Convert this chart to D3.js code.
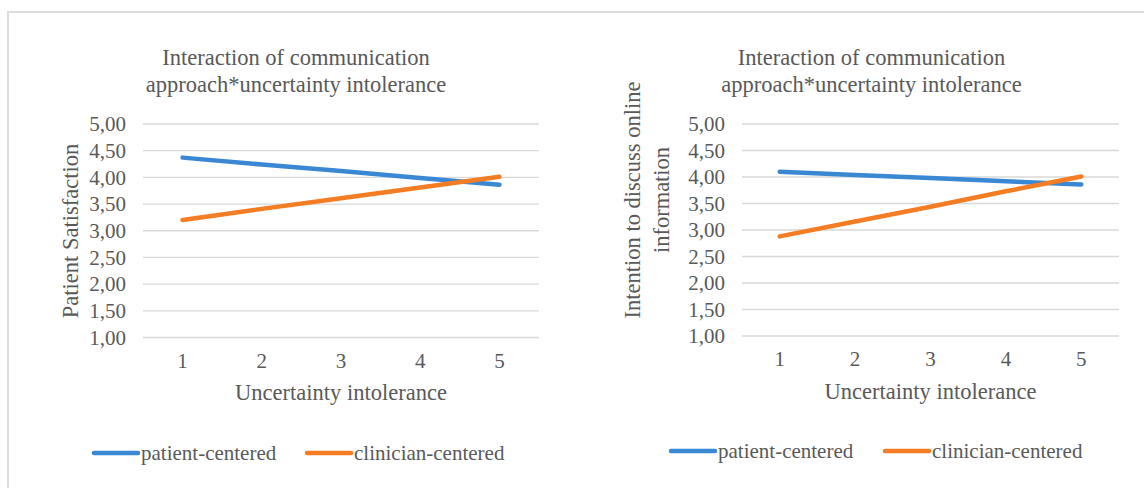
<!DOCTYPE html>
<html>
<head>
<meta charset="utf-8">
<script src="https://cdn.jsdelivr.net/npm/d3@7"></script>
<style>
  body { margin: 0; background: #fff; }
  svg text { font-family: "Liberation Serif", "Times New Roman", serif; fill: #595959; }
  .grid line { stroke: #d9d9d9; stroke-width: 1.3; }
  .line { fill: none; stroke-width: 4.5; stroke-linecap: round; stroke-linejoin: round; }
</style>
</head>
<body>
<div id="chart"></div>
<script>
// data
var levels = [1, 2, 3, 4, 5];
var yTicks = [1, 1.5, 2, 2.5, 3, 3.5, 4, 4.5, 5];
var seriesNames = ["patient-centered", "clinician-centered"];
var seriesColors = ["#3a87d4", "#f47c22"];

var satisfactionPatient = [4.37, 4.24, 4.12, 3.99, 3.86];
var satisfactionClinician = [3.20, 3.41, 3.61, 3.81, 4.01];

var intentionPatient = [4.10, 4.04, 3.98, 3.92, 3.86];
var intentionClinician = [2.88, 3.16, 3.44, 3.73, 4.01];

var chartTitle = ["Interaction of communication", "approach*uncertainty intolerance"];
var xTitle = "Uncertainty intolerance";

function init() {
    var w = 1144;
    var h = 488;

    var svg = d3.select("#chart")
                .append("svg")
                .attr("width", w)
                .attr("height", h);

    // outer frame
    svg.append("path")
        .attr("d", "M8," + h + "V12H" + w)
        .attr("fill", "none")
        .attr("stroke", "#dcdcdc")
        .attr("stroke-width", 2);

    drawChart(svg, {
        left: 143, right: 539, top: 124, bottom: 337.5,
        titleX: 296,
        yTitle: ["Patient Satisfaction"], yTitleX: [70], yTitleY: 231,
        tickY: 368, xTitleY: 400,
        legendY: 453, legendX: [94, 307],
        series: [satisfactionPatient, satisfactionClinician]
    });

    drawChart(svg, {
        left: 742, right: 1119, top: 124, bottom: 336,
        titleX: 871.5,
        yTitle: ["Intention to discuss online", "information"], yTitleX: [632, 661.5], yTitleY: 200,
        tickY: 366, xTitleY: 399,
        legendY: 451, legendX: [671, 885],
        series: [intentionPatient, intentionClinician]
    });
}

function drawChart(svg, c) {
    var xScale = d3.scaleBand()
                .domain(levels)
                .range([c.left, c.right]);

    var yScale = d3.scaleLinear()
                .domain([1, 5])
                .range([c.bottom, c.top]);

    // gridlines
    svg.append("g")
        .attr("class", "grid")
        .selectAll("line")
        .data(yTicks)
        .enter()
        .append("line")
        .attr("x1", c.left)
        .attr("x2", c.right)
        .attr("y1", function(d) { return yScale(d); })
        .attr("y2", function(d) { return yScale(d); });

    // y tick labels
    svg.append("g")
        .selectAll("text")
        .data(yTicks)
        .enter()
        .append("text")
        .attr("x", c.left - 17)
        .attr("y", function(d) { return yScale(d); })
        .attr("dy", "0.35em")
        .attr("text-anchor", "end")
        .style("font-size", "21px")
        .text(function(d) { return d3.format(".2f")(d).replace(".", ","); });

    // x tick labels
    svg.append("g")
        .selectAll("text")
        .data(levels)
        .enter()
        .append("text")
        .attr("x", function(d) { return xScale(d) + xScale.bandwidth() / 2; })
        .attr("y", c.tickY)
        .attr("text-anchor", "middle")
        .style("font-size", "21px")
        .text(function(d) { return d; });

    // title
    svg.append("text")
        .attr("x", c.titleX)
        .attr("y", 64.5)
        .attr("text-anchor", "middle")
        .style("font-size", "22.5px")
        .selectAll("tspan")
        .data(chartTitle)
        .enter()
        .append("tspan")
        .attr("x", c.titleX)
        .attr("dy", function(d, i) { return i == 0 ? 0 : 27; })
        .text(function(d) { return d; });

    // x axis title
    svg.append("text")
        .attr("x", (c.left + c.right) / 2)
        .attr("y", c.xTitleY)
        .attr("text-anchor", "middle")
        .style("font-size", "22.5px")
        .text(xTitle);

    // y axis title
    c.yTitle.forEach(function(t, i) {
        svg.append("text")
            .attr("transform", "translate(" + c.yTitleX[i] + "," + c.yTitleY + ") rotate(-90)")
            .attr("dy", "0.35em")
            .attr("text-anchor", "middle")
            .style("font-size", "22.5px")
            .text(t);
    });

    var line = d3.line()
                .x(function(d, i) { return xScale(levels[i]) + xScale.bandwidth() / 2; })
                .y(function(d) { return yScale(d); });

    c.series.forEach(function(s, i) {
        svg.append("path")
            .datum(s)
            .attr("class", "line")
            .attr("stroke", seriesColors[i])
            .attr("d", line);
    });

    // legend
    seriesNames.forEach(function(name, i) {
        var lx = c.legendX[i];
        svg.append("line")
            .attr("x1", lx)
            .attr("x2", lx + 44)
            .attr("y1", c.legendY)
            .attr("y2", c.legendY)
            .attr("stroke", seriesColors[i])
            .attr("stroke-width", 4.5)
            .attr("stroke-linecap", "round");

        svg.append("text")
            .attr("x", lx + 47)
            .attr("y", c.legendY)
            .attr("dy", "0.35em")
            .style("font-size", "21px")
            .text(name);
    });
}

window.onload = init;
</script>
</body>
</html>
